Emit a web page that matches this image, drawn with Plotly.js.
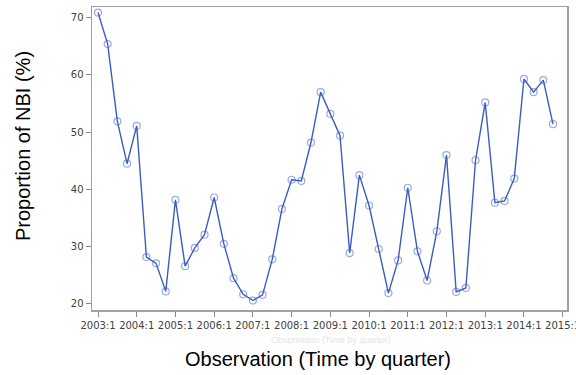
<!DOCTYPE html>
<html>
<head>
<meta charset="utf-8">
<script src="https://cdn.plot.ly/plotly-3.0.1.min.js"></script>
<style>
  html, body { margin: 0; padding: 0; background: #fff; }
  #chart { width: 576px; height: 375px; }
</style>
</head>
<body>
<div id="chart"></div>
<script>
// Quarterly proportion of NBI (%), 2003 Q1 through 2014 Q4
const years = [2003, 2004, 2005, 2006, 2007, 2008, 2009, 2010, 2011, 2012, 2013, 2014];
const nbiPercent = [
  70.9, 65.4, 51.9, 44.5,   // 2003
  51.1, 28.2, 27.1, 22.2,   // 2004
  38.2, 26.6, 29.8, 32.1,   // 2005
  38.6, 30.5, 24.5, 21.7,   // 2006
  20.6, 21.6, 27.8, 36.6,   // 2007
  41.7, 41.5, 48.2, 57.0,   // 2008
  53.2, 49.4, 28.9, 42.5,   // 2009
  37.2, 29.6, 21.9, 27.6,   // 2010
  40.3, 29.2, 24.1, 32.7,   // 2011
  46.0, 22.1, 22.8, 45.1,   // 2012
  55.2, 37.7, 38.0, 41.9,   // 2013
  59.3, 57.0, 59.1, 51.4    // 2014
];
const tickYears = [2003, 2004, 2005, 2006, 2007, 2008, 2009, 2010, 2011, 2012, 2013, 2014, 2015];
const tickLabels = ["2003:1", "2004:1", "2005:1", "2006:1", "2007:1", "2008:1", "2009:1",
                    "2010:1", "2011:1", "2012:1", "2013:1", "2014:1", "2015:1"];
const yTicks = [20, 30, 40, 50, 60, 70];

// Each observation sits at year + (quarter - 1) / 4 on a continuous time axis
const quarterPos = [];
years.forEach(y => { for (let q = 0; q < 4; q++) quarterPos.push(y + q / 4); });

const trace = {
  x: quarterPos,
  y: nbiPercent,
  type: 'scatter',
  mode: 'lines+markers',
  line: { color: '#3b5cc0', width: 1.4 },
  marker: {
    symbol: 'circle-open',
    size: 7,
    color: 'rgba(70,100,200,0.55)',
    line: { width: 1.2 }
  },
  hoverinfo: 'skip'
};

const tickFont = { family: 'DejaVu Sans, Verdana, sans-serif', size: 10, color: '#404040' };

const layout = {
  width: 576,
  height: 375,
  margin: { l: 92, r: 9, t: 7, b: 65 },
  paper_bgcolor: '#ffffff',
  plot_bgcolor: '#ffffff',
  showlegend: false,
  xaxis: {
    range: [2002.845, 2015.112],
    tickvals: tickYears,
    ticktext: tickLabels,
    tickfont: tickFont,
    ticklabeloverflow: 'allow',
    ticks: 'outside',
    ticklen: 5,
    tickcolor: '#8a8a8a',
    showgrid: false,
    zeroline: false,
    showline: true,
    linecolor: '#a0a0a0',
    linewidth: 1.5,
    mirror: true
  },
  yaxis: {
    range: [18.95, 71.87],
    tickvals: yTicks,
    tickfont: tickFont,
    ticks: 'outside',
    ticklen: 5,
    tickcolor: '#8a8a8a',
    showgrid: false,
    zeroline: false,
    showline: true,
    linecolor: '#a0a0a0',
    linewidth: 1.5,
    mirror: true
  },
  annotations: [
    {
      text: 'Observation (Time by quarter)',
      xref: 'paper', yref: 'paper',
      x: (331 - 92) / 475, y: -(340 - 310) / 303,
      xanchor: 'center', yanchor: 'middle',
      showarrow: false,
      font: { family: 'Liberation Sans, Arial, sans-serif', size: 9, color: '#e4e4e4' }
    },
    {
      text: 'Observation (Time by quarter)',
      xref: 'paper', yref: 'paper',
      x: (318 - 92) / 475, y: -(359 - 310) / 303,
      xanchor: 'center', yanchor: 'middle',
      showarrow: false,
      font: { family: 'Liberation Sans, Arial, sans-serif', size: 20, color: '#000000' }
    },
    {
      text: 'Proportion of NBI (%)',
      xref: 'paper', yref: 'paper',
      x: -(92 - 23) / 475, y: (310 - 146) / 303,
      xanchor: 'center', yanchor: 'middle',
      textangle: -90,
      showarrow: false,
      font: { family: 'Liberation Sans, Arial, sans-serif', size: 20, color: '#000000' }
    }
  ]
};

Plotly.newPlot('chart', [trace], layout, { displayModeBar: false, staticPlot: true });
</script>
</body>
</html>
